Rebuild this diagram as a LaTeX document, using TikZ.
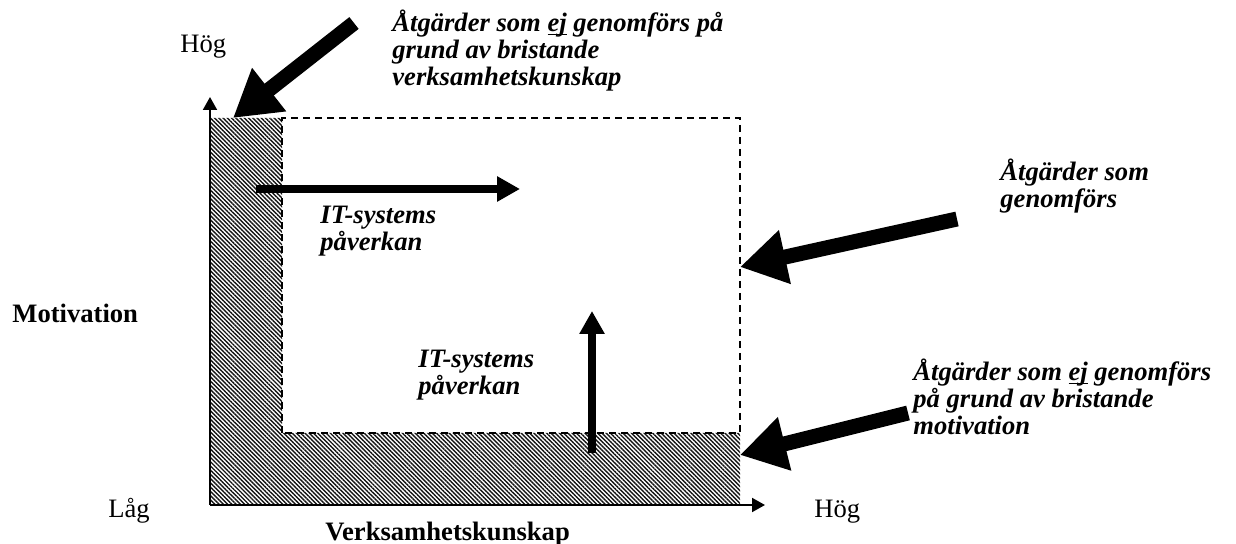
\documentclass[tikz,border=0pt]{standalone}
\usepackage{fontspec}
\setmainfont{Liberation Serif}
\usetikzlibrary{arrows.meta,patterns.meta}

\definecolor{inkcolor}{RGB}{0, 0, 0}
\definecolor{hatchcolor}{RGB}{20, 20, 20}

\newcommand{\ulword}[1]{\underline{\smash{#1}}}

\tikzset{
    txt/.style={anchor=base west, inner sep=0pt, align=left, font=\fontsize{13.3}{13.6}\selectfont},
    note/.style={txt, font=\fontsize{13.3}{13.6}\selectfont\bfseries\itshape},
    axisline/.style={line width=1pt, -{Triangle[length=6.5pt,width=7pt]}},
    effect/.style={line width=4pt, -{Triangle[length=11.5pt,width=12pt]}},
    bigarrow/.style={line width=7.5pt, -{Triangle[length=23pt,width=26pt]}}
}

\begin{document}
\begin{tikzpicture}[x=0.5pt, y=-0.5pt]

    \useasboundingbox (0,0) rectangle (1236,544);

    % ==========================================
    % --- Hatched L and dashed field ---
    % ==========================================
    \fill[pattern={Lines[angle=-45, distance=1.5pt, line width=0.7pt]}, pattern color=hatchcolor]
        (210,118) -- (282,118) -- (282,433) -- (740,433) -- (740,505) -- (210,505) -- cycle;
    \draw[line width=0.75pt, dash pattern=on 3.5pt off 2.5pt] (282,433) rectangle (740,118);

    % ==========================================
    % --- Axes ---
    % ==========================================
    \coordinate (origin) at (210,505);
    \coordinate (ytop) at (210,97);
    \coordinate (xend) at (765,505);
    \draw[axisline] (origin) -- (ytop);
    \draw[axisline] (origin) -- (xend);

    \node[txt] (hoegy) at (180,53) {Hög};
    \node[txt] (laag) at (108,517) {Låg};
    \node[txt] (hoegx) at (814,517) {Hög};
    \node[txt, font=\fontsize{13.3}{13.6}\selectfont\bfseries] (motiv) at (12,323) {Motivation};
    \node[txt, font=\fontsize{13.3}{13.6}\selectfont\bfseries] (verks) at (325,540) {Verksamhetskunskap};

    % ==========================================
    % --- IT-systems effect ---
    % ==========================================
    \coordinate (rightfrom) at (256,189);
    \coordinate (rightto) at (520,189);
    \coordinate (upfrom) at (592,453);
    \coordinate (upto) at (592,311);
    \draw[effect] (rightfrom) -- (rightto);
    \draw[effect] (upfrom) -- (upto);

    % base anchor sits on the last line
    \foreach \px/\py [count=\i] in {320/251, 418/395} {
        \node[note] (itsys\i) at (\px,\py) {IT-systems\\påverkan};
    }

    % ==========================================
    % --- Notes with big arrows ---
    % ==========================================
    \node[note] (ejverks) at (392,86) {Åtgärder som \ulword{ej} genomförs på\\grund av bristande\\verksamhetskunskap};
    \node[note] (genomf) at (1000,208) {Åtgärder som\\genomförs};
    \node[note] (ejmotiv) at (913,435) {Åtgärder som \ulword{ej} genomförs\\på grund av bristande\\motivation};

    \coordinate (tailA) at (354,23);
    \coordinate (cornerA) at (233,118);
    \coordinate (tailB) at (957,219);
    \coordinate (cornerB) at (740,267);
    \coordinate (tailC) at (908,413);
    \coordinate (cornerC) at (740,455);
    \draw[bigarrow] (tailA) -- (cornerA);
    \draw[bigarrow] (tailB) -- (cornerB);
    \draw[bigarrow] (tailC) -- (cornerC);

\end{tikzpicture}
\end{document}
